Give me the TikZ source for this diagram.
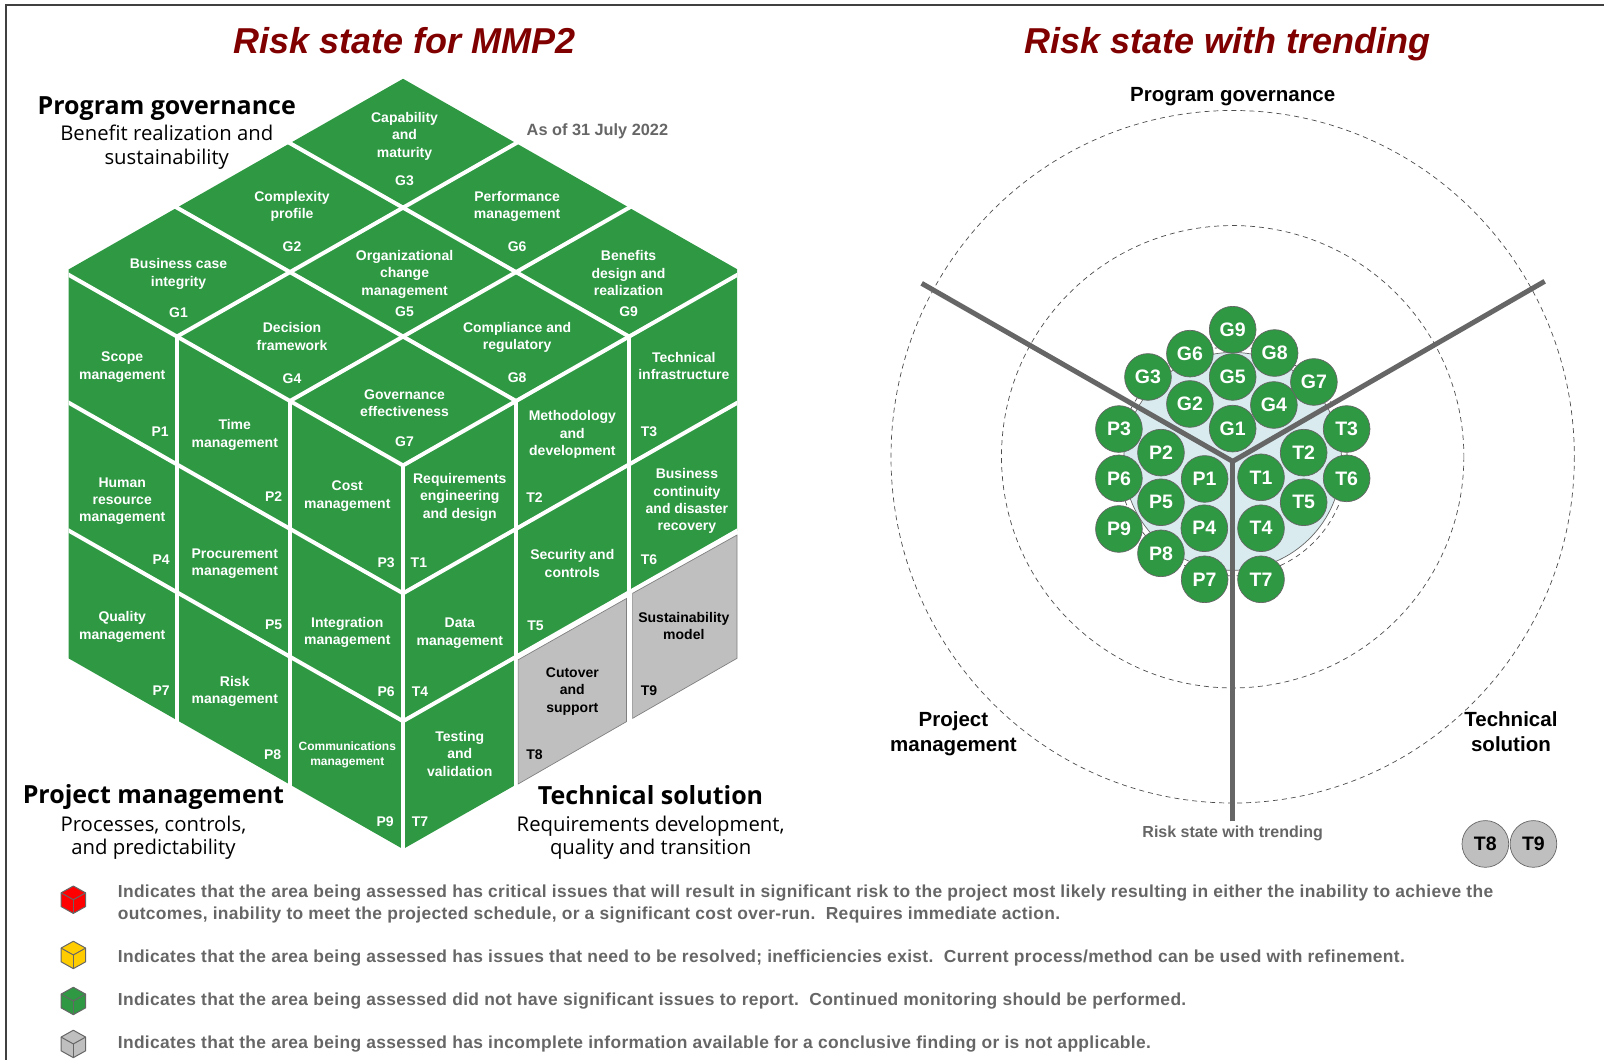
\documentclass[tikz,border=0pt]{standalone}
\usepackage{fontspec}
\setmainfont{Liberation Sans}
\newfontfamily\headfont{Open Sans}
\definecolor{cubegreen}{HTML}{2E9843}
\definecolor{cubegray}{HTML}{BFBFBF}
\definecolor{cubeyellow}{HTML}{FFCC00}
\definecolor{titlered}{HTML}{800000}
\definecolor{notegray}{HTML}{666666}
\definecolor{lightblue}{HTML}{D9EBEF}
\tikzset{
  cellline/.style={white,line width=4pt,shorten <=-2pt,shorten >=-2pt},
  celltext/.style={text=white,font=\fontsize{14}{17.4}\selectfont\bfseries,align=center,inner sep=0pt,yshift=-2pt,xshift=0.5pt},
  cellid/.style={celltext,yshift=1pt},
  bigtitle/.style={text=titlered,font=\fontsize{36}{40}\selectfont\bfseries\itshape,inner sep=0pt,anchor=base},
  facehead/.style={font=\headfont\fontsize{25}{28}\selectfont\bfseries,inner sep=0pt},
  facesub/.style={font=\headfont\fontsize{20.3}{23.5}\selectfont,align=center,inner sep=0pt},
  ringlabel/.style={font=\fontsize{20.5}{24.5}\selectfont\bfseries,align=center,inner sep=0pt},
  notetext/.style={text=notegray,font=\fontsize{17.4}{22}\selectfont\bfseries\addfontfeature{LetterSpace=2},anchor=west,align=left,inner sep=0pt},
  ball/.style={circle,minimum size=46.7pt,inner sep=0pt,fill=cubegreen,draw=notegray,line width=0.7pt,text=white,font=\fontsize{19.5}{22}\selectfont\bfseries},
  ringline/.style={dash pattern=on 5pt off 4pt,draw=black!70,line width=0.7pt},
  spoke/.style={draw=notegray,line width=5pt},
  graycell/.style={fill=cubegray,draw=black!50,line width=0.7pt},
  legcube/.style={draw=notegray,line width=1pt,line join=round}
}
\begin{document}
\begin{tikzpicture}[x=1.023pt,y=-1.023pt]
\useasboundingbox (0,0) rectangle (1568,1036);
% frame
\draw[black!75,line width=1.6pt] (6,1036) -- (6,5) -- (1568,5);
% titles
\node[bigtitle] (titleL) at (395,52.5) {Risk state for MMP2};
\node[bigtitle] (titleR) at (1200,52.5) {Risk state with trending};
\node[font=\fontsize{16.3}{18}\selectfont\bfseries,text=notegray,inner sep=0pt] (asof) at (584,128.5) {As of 31 July 2022};
% cube faces
\begin{scope}
\clip (67,0) rectangle (720.5,900);
\foreach \i in {0,1,2} \foreach \j in {0,1,2}
  \fill[cubegreen] ({394+(\i-\j)*110.5},{77+(\i+\j)*63}) -- ++(110.5,63) -- ++(-110.5,63) -- ++(-110.5,-63) -- cycle;
\foreach \c in {0,1,2} \foreach \r in {0,1,2}
  \fill[cubegreen] ({394-(3-\c)*110.5},{266+\c*63+\r*125}) -- ++(110.5,63) -- ++(0,125) -- ++(-110.5,-63) -- cycle;
\foreach \c/\r in {0/0,0/1,0/2,1/0,1/1,2/0,2/1}
  \fill[cubegreen] ({394+\c*110.5},{455-\c*63+\r*125}) -- ++(110.5,-63) -- ++(0,125) -- ++(-110.5,63) -- cycle;
% white lines between the cells
\foreach \i in {1,2,3} {
  \draw[cellline] ({394+\i*110.5},{77+\i*63}) -- ++(-331.5,189);
  \draw[cellline] ({394-\i*110.5},{77+\i*63}) -- ++(331.5,189);
  \draw[cellline] ({394-(3-\i)*110.5},{266+\i*63}) -- ++(0,375);
  \draw[cellline] ({394+(\i-1)*110.5},{455-(\i-1)*63}) -- ++(0,375);
}
\foreach \r in {1,2} {
  \draw[cellline] (62.5,{266+\r*125}) -- ++(331.5,189);
  \draw[cellline] (394,{455+\r*125}) -- ++(331.5,-189);
}
\end{scope}
% the two gray cells
\filldraw[graycell] (506.5,645) -- (612.5,585) -- (612.5,705.4) -- (506.5,766.4) -- cycle;
\filldraw[graycell] (618.4,580) -- (720.5,523) -- (720.5,643.5) -- (618.4,702.2) -- cycle;
% top face
\node[celltext] (txtG3) at (395,131) {Capability\\and\\maturity};
\node[cellid] (idG3) at (395,176) {G3};
\node[celltext] (txtG2) at (285,200) {Complexity\\profile};
\node[cellid] (idG2) at (285,240) {G2};
\node[celltext] (txtG6) at (505,200) {Performance\\management};
\node[cellid] (idG6) at (505,240) {G6};
\node[celltext] (txtG1) at (174,266) {Business case\\integrity};
\node[cellid] (idG1) at (174,305) {G1};
\node[celltext] (txtG5) at (395,266) {Organizational\\change\\management};
\node[cellid] (idG5) at (395,304) {G5};
\node[celltext] (txtG9) at (614,265) {Benefits\\design and\\realization};
\node[cellid] (idG9) at (614,304) {G9};
\node[celltext] (txtG4) at (285,327) {Decision\\framework};
\node[cellid] (idG4) at (285,369) {G4};
\node[celltext] (txtG8) at (505,328) {Compliance and\\regulatory};
\node[cellid] (idG8) at (505,368) {G8};
\node[celltext] (txtG7) at (395,392) {Governance\\effectiveness};
\node[cellid] (idG7) at (395,431) {G7};
% left face
\node[celltext] (txtP1) at (119,357) {Scope\\management};
\node[cellid] (idP1) at (156,421) {P1};
\node[celltext] (txtP2) at (229,423) {Time\\management};
\node[cellid] (idP2) at (267,484) {P2};
\node[celltext] (txtP3) at (339,483) {Cost\\management};
\node[cellid] (idP3) at (377,549) {P3};
\node[celltext] (txtP4) at (119,488) {Human\\resource\\management};
\node[cellid] (idP4) at (157,546) {P4};
\node[celltext] (txtP5) at (229,549) {Procurement\\management};
\node[cellid] (idP5) at (267,610) {P5};
\node[celltext] (txtP6) at (339,616) {Integration\\management};
\node[cellid] (idP6) at (377,675) {P6};
\node[celltext] (txtP7) at (119,611) {Quality\\management};
\node[cellid] (idP7) at (157,674) {P7};
\node[celltext] (txtP8) at (229,674) {Risk\\management};
\node[cellid] (idP8) at (266,737) {P8};
\node[celltext,font=\fontsize{12}{15}\selectfont\bfseries] (txtP9) at (339,736) {Communications\\management};
\node[cellid] (idP9) at (376,802) {P9};
% right face
\node[celltext] (txtT1) at (449,484) {Requirements\\engineering\\and design};
\node[cellid] (idT1) at (409,549) {T1};
\node[celltext] (txtT2) at (559,423) {Methodology\\and\\development};
\node[cellid] (idT2) at (522,485) {T2};
\node[celltext] (txtT3) at (668,356) {Technical\\infrastructure};
\node[cellid] (idT3) at (634,421) {T3};
\node[celltext] (txtT4) at (449,617) {Data\\management};
\node[cellid] (idT4) at (410,675) {T4};
\node[celltext] (txtT5) at (559,549) {Security and\\controls};
\node[cellid] (idT5) at (523,611) {T5};
\node[celltext] (txtT6) at (671,488) {Business\\continuity\\and disaster\\recovery};
\node[cellid] (idT6) at (634,546) {T6};
\node[celltext] (txtT7) at (449,735) {Testing\\and\\validation};
\node[cellid] (idT7) at (410,802) {T7};
\node[celltext,text=black] (txtT8) at (559,674) {Cutover\\and\\support};
\node[cellid,text=black] (idT8) at (522,737) {T8};
\node[celltext,text=black] (txtT9) at (668,610) {Sustainability\\model};
\node[cellid,text=black] (idT9) at (634,674) {T9};
% face headings
\node[facehead] (headG) at (163,106) {Program governance};
\node[facesub] (subG) at (163,144) {Benefit realization and\\sustainability};
\node[facehead] (headP) at (150,779) {Project management};
\node[facesub] (subP) at (150,819) {Processes, controls,\\and predictability};
\node[facehead] (headT) at (636,777.5) {Technical solution};
\node[facesub] (subT) at (636,819) {Requirements development,\\quality and transition};
% rings
\draw[ringline] (1205,446.5) ellipse (334 and 338.5);
\draw[ringline] (1205,446.5) ellipse (226 and 226);
\draw[ringline] (1205,451) circle[radius=112];
\filldraw[fill=lightblue,draw=notegray,line width=0.7pt] (1205,451) circle[radius=106.5];
\coordinate (hub) at (1205,451);
\coordinate (endG) at (901,277);
\coordinate (endT) at (1510,275);
\coordinate (endB) at (1205,803);
\draw[spoke] (endG) -- (hub) -- (endT);
\draw[spoke] (endB) -- (hub);
% balls
\node[ball] (G9) at (1205,322.3) {G9};
\node[ball] (G8) at (1246,345.1) {G8};
\node[ball] (G6) at (1163.2,345.7) {G6};
\node[ball] (G3) at (1122.2,368.5) {G3};
\node[ball] (G5) at (1205,368.5) {G5};
\node[ball] (G7) at (1284.4,373.4) {G7};
\node[ball] (G2) at (1163.2,394.9) {G2};
\node[ball] (G4) at (1245.3,395.9) {G4};
\node[ball] (G1) at (1205,419) {G1};
\node[ball] (P3) at (1093.8,419.4) {P3};
\node[ball] (P2) at (1134.9,442.5) {P2};
\node[ball] (P1) at (1177.6,468.2) {P1};
\node[ball] (P6) at (1093.8,467.6) {P6};
\node[ball] (P5) at (1134.9,491) {P5};
\node[ball] (P4) at (1177.3,516.4) {P4};
\node[ball] (P9) at (1093.8,517.1) {P9};
\node[ball] (P8) at (1134.9,540.9) {P8};
\node[ball] (P7) at (1177.6,566.3) {P7};
\node[ball] (T3) at (1316.4,419.4) {T3};
\node[ball] (T2) at (1274.4,442.5) {T2};
\node[ball] (T1) at (1232.7,466.6) {T1};
\node[ball] (T6) at (1316.4,467.6) {T6};
\node[ball] (T5) at (1274.4,491) {T5};
\node[ball] (T4) at (1232.7,516.4) {T4};
\node[ball] (T7) at (1232.7,566.3) {T7};
\node[ball,fill=cubegray,text=black] (T8) at (1452,825) {T8};
\node[ball,fill=cubegray,text=black] (T9) at (1499,825) {T9};
% ring labels
\node[ringlabel] (ringG) at (1205,94) {Program governance};
\node[ringlabel] (ringP) at (932,717.5) {Project\\management};
\node[ringlabel] (ringT) at (1477,715) {Technical\\solution};
\node[font=\fontsize{16}{19}\selectfont\bfseries,text=notegray,inner sep=0pt] (ringB) at (1205,815) {Risk state with trending};
% legend
\foreach \y/\col in {879.5/red,933.5/cubeyellow,978.5/cubegreen,1020.5/cubegray} {
  \filldraw[legcube,fill=\col] (71.7,\y-13.4) -- ++(12,6.7) -- ++(0,13.4) -- ++(-12,6.7) -- ++(-12,-6.7) -- ++(0,-13.4) -- cycle;
  \draw[legcube] (59.7,\y-6.7) -- (71.7,\y) -- (83.7,\y-6.7);
  \draw[legcube] (71.7,\y) -- (71.7,\y+13.4);
}
\node[notetext] (noteA) at (115,884) {Indicates that the area being assessed has critical issues that will result in significant risk to the project most likely resulting in either the inability to achieve the\\outcomes, inability to meet the projected schedule, or a significant cost over-run.\ \ Requires immediate action.};
\node[notetext] (noteB) at (115,937) {Indicates that the area being assessed has issues that need to be resolved; inefficiencies exist.\ \ Current process/method can be used with refinement.};
\node[notetext] (noteC) at (115,979) {Indicates that the area being assessed did not have significant issues to report.\ \ Continued monitoring should be performed.};
\node[notetext] (noteD) at (115,1021) {Indicates that the area being assessed has incomplete information available for a conclusive finding or is not applicable.};
\end{tikzpicture}
\end{document}
